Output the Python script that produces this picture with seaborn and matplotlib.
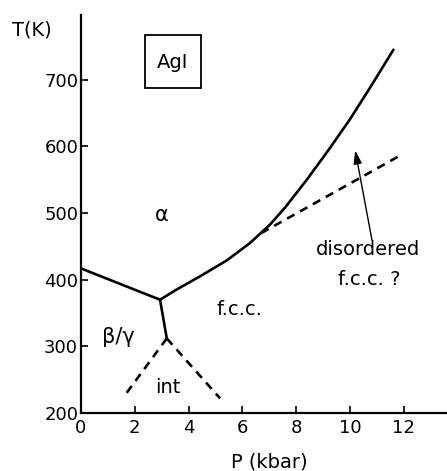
import matplotlib
matplotlib.use("Agg")
import matplotlib.pyplot as plt
from matplotlib.patches import Rectangle
import seaborn as sns

# Phase boundaries (P in kbar, T in K)
beta_alpha_P = [0.0, 2.94]
beta_alpha_T = [417, 370]
alpha_fcc_P = [2.94, 3.5, 4.42, 5.42, 6.28, 7.03, 7.6, 8.39, 9.19, 10.0, 10.74, 11.61]
alpha_fcc_T = [370, 384, 405, 429, 455, 483, 509, 550, 594, 641, 688, 745]
beta_fcc_P = [2.94, 3.19]
beta_fcc_T = [370, 312]
int_left_P = [3.19, 1.64]
int_left_T = [312, 227]
int_right_P = [3.19, 5.17]
int_right_T = [312, 222]
disord_P = [6.7, 11.8]
disord_T = [470, 585]

xticks = [0, 2, 4, 6, 8, 10, 12]
yticks = [200, 300, 400, 500, 600, 700]

sns.set_style("ticks")
plt.rcParams['font.family'] = ['DejaVu Sans']
plt.rcParams['text.color'] = 'black'
plt.rcParams['axes.labelcolor'] = 'black'
plt.rcParams['xtick.color'] = 'black'
plt.rcParams['ytick.color'] = 'black'

fig = plt.figure(figsize=(4.47, 4.71), dpi=100)
ax = fig.add_axes([0.181, 0.123, 0.819, 0.845])

solid = [(beta_alpha_P, beta_alpha_T), (alpha_fcc_P, alpha_fcc_T), (beta_fcc_P, beta_fcc_T)]
dashed = [(int_left_P, int_left_T), (int_right_P, int_right_T), (disord_P, disord_T)]

for P, T in solid:
    sns.lineplot(x=P, y=T, ax=ax, color="black", lw=1.9, sort=False, estimator=None)
for P, T in dashed:
    sns.lineplot(x=P, y=T, ax=ax, color="black", lw=1.9, sort=False, estimator=None,
                 linestyle=(0, (3.2, 2.4)))

ax.set_xlim(0, 13.6)
ax.set_ylim(200, 797)
ax.set_xticks(xticks)
ax.set_yticks(yticks)
ax.tick_params(direction="in", length=5, width=1.2, labelsize=13)
ax.tick_params(axis="x", pad=4)
ax.tick_params(axis="y", pad=2)
for s in ["top", "right"]:
    ax.spines[s].set_visible(False)
for s in ["left", "bottom"]:
    ax.spines[s].set_linewidth(1.6)
    ax.spines[s].set_color("black")

ax.set_xlabel("P (kbar)", fontsize=14)
ax.xaxis.set_label_coords(0.516, -0.1)
ax.set_ylabel("")
fig.text(0.072, 0.936, "T(K)", fontsize=14, ha="center", va="center")

ax.add_patch(Rectangle((2.38, 688), 2.08, 79, fill=False, ec="black", lw=1.3))
ax.text(3.42, 726, "AgI", fontsize=14, ha="center", va="center")
ax.text(3.0, 497, "α", fontsize=15, ha="center", va="center")
ax.text(1.38, 314, "β/γ", fontsize=15, ha="center", va="center")
ax.text(3.23, 238, "int", fontsize=14, ha="center", va="center")
ax.text(5.9, 355, "f.c.c.", fontsize=14, ha="center", va="center")
ax.text(10.67, 445, "disordered", fontsize=14, ha="center", va="center")
ax.text(10.72, 400, "f.c.c. ?", fontsize=14, ha="center", va="center")

ax.annotate("", xy=(10.19, 594), xytext=(10.81, 460),
            arrowprops=dict(arrowstyle="-|>,head_length=0.8,head_width=0.25",
                            color="black", lw=1.0, shrinkA=0, shrinkB=0))

fig.savefig("out.png", dpi=100)
